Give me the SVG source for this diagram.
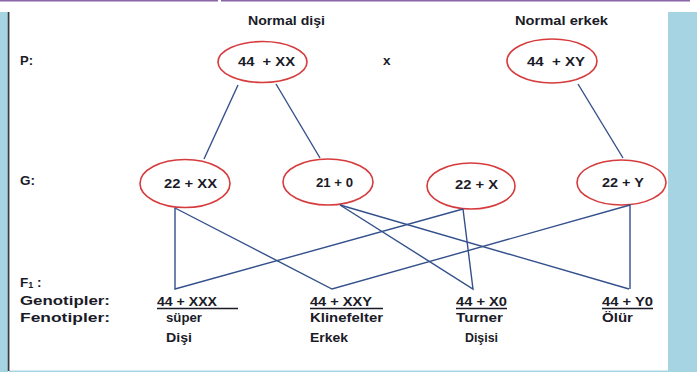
<svg xmlns="http://www.w3.org/2000/svg" width="697" height="372" viewBox="0 0 697 372">
  <style>
    .t { font-family: "Liberation Sans", Arial, sans-serif; font-weight: bold; font-size: 13.5px; fill: #1b1b28; }
    .ov { fill: none; stroke: #d63b3d; stroke-width: 1.6; }
    .ln { fill: none; stroke: #34508c; stroke-width: 1.4; }
    .ul { stroke: #1b1b28; stroke-width: 1.4; }
  </style>

  <!-- page frame -->
  <rect x="0" y="0" width="697" height="372" fill="#ffffff"/>
  <line x1="0" y1="0.7" x2="218" y2="0.7" stroke="#8a66a9" stroke-width="1.6"/>
  <line x1="221" y1="0.7" x2="690" y2="0.7" stroke="#8a66a9" stroke-width="1.6"/>
  <rect x="0" y="12" width="8" height="360" fill="#a6d4e2"/>
  <rect x="668" y="12" width="29" height="360" fill="#a6d4e2"/>
  <rect x="9" y="370.5" width="659" height="1.5" fill="#a6d4e2"/>
  <line x1="8.6" y1="12" x2="8.6" y2="371" stroke="#3a3a3a" stroke-width="1.7"/>

  <!-- row labels -->
  <g id="labels">
    <text class="t" x="248" y="25" textLength="77" lengthAdjust="spacingAndGlyphs">Normal dişi</text>
    <text class="t" x="515" y="25" textLength="93" lengthAdjust="spacingAndGlyphs">Normal erkek</text>
    <text class="t" x="20" y="65" textLength="13" lengthAdjust="spacingAndGlyphs">P:</text>
    <text class="t" x="383" y="65">x</text>
    <text class="t" x="20" y="185" textLength="15" lengthAdjust="spacingAndGlyphs">G:</text>
    <text class="t" x="20" y="287">F<tspan font-size="9" dy="1">1</tspan><tspan dy="-1"> :</tspan></text>
    <text class="t" x="20" y="305" textLength="90" lengthAdjust="spacingAndGlyphs">Genotipler:</text>
    <text class="t" x="20" y="322" textLength="90" lengthAdjust="spacingAndGlyphs">Fenotipler:</text>
  </g>

  <!-- parents -->
  <g id="p-female">
    <ellipse class="ov" cx="262.5" cy="62" rx="44.5" ry="20.5"/>
    <text class="t" x="238" y="66" textLength="57" lengthAdjust="spacingAndGlyphs">44&#160; + XX</text>
  </g>
  <g id="p-male">
    <ellipse class="ov" cx="552" cy="61" rx="45" ry="22"/>
    <text class="t" x="527" y="66" textLength="58" lengthAdjust="spacingAndGlyphs">44&#160; + XY</text>
  </g>

  <!-- gametes -->
  <g id="g-22xx">
    <ellipse class="ov" cx="185" cy="183.5" rx="45" ry="24"/>
    <text class="t" x="164" y="188" textLength="53" lengthAdjust="spacingAndGlyphs">22 + XX</text>
  </g>
  <g id="g-210">
    <ellipse class="ov" cx="328" cy="182" rx="45" ry="23"/>
    <text class="t" x="316" y="187" textLength="37" lengthAdjust="spacingAndGlyphs">21 + 0</text>
  </g>
  <g id="g-22x">
    <ellipse class="ov" cx="471" cy="186" rx="44" ry="23"/>
    <text class="t" x="455" y="189" textLength="43" lengthAdjust="spacingAndGlyphs">22 + X</text>
  </g>
  <g id="g-22y">
    <ellipse class="ov" cx="621.5" cy="182.5" rx="44.5" ry="22.5"/>
    <text class="t" x="602" y="187" textLength="42" lengthAdjust="spacingAndGlyphs">22 + Y</text>
  </g>

  <!-- offspring -->
  <g id="f-xxx">
    <text class="t" x="157" y="306" textLength="60" lengthAdjust="spacingAndGlyphs">44 + XXX</text>
    <line class="ul" x1="157" y1="308.5" x2="238" y2="308.5"/>
    <text class="t" x="166" y="322" textLength="36" lengthAdjust="spacingAndGlyphs">süper</text>
    <text class="t" x="166" y="342" textLength="26" lengthAdjust="spacingAndGlyphs">Dişi</text>
  </g>
  <g id="f-xxy">
    <text class="t" x="310" y="306" textLength="62" lengthAdjust="spacingAndGlyphs">44 + XXY</text>
    <line class="ul" x1="310" y1="308.5" x2="383" y2="308.5"/>
    <text class="t" x="310" y="322" textLength="73" lengthAdjust="spacingAndGlyphs">Klinefelter</text>
    <text class="t" x="310" y="342" textLength="38" lengthAdjust="spacingAndGlyphs">Erkek</text>
  </g>
  <g id="f-x0">
    <text class="t" x="456" y="306" textLength="51" lengthAdjust="spacingAndGlyphs">44 + X0</text>
    <line class="ul" x1="456" y1="308.5" x2="507" y2="308.5"/>
    <text class="t" x="456" y="322" textLength="47" lengthAdjust="spacingAndGlyphs">Turner</text>
    <text class="t" x="465" y="342" textLength="33" lengthAdjust="spacingAndGlyphs">Dişisi</text>
  </g>
  <g id="f-y0">
    <text class="t" x="602" y="306" textLength="51" lengthAdjust="spacingAndGlyphs">44 + Y0</text>
    <line class="ul" x1="602" y1="308.5" x2="653" y2="308.5"/>
    <text class="t" x="602" y="322" textLength="31" lengthAdjust="spacingAndGlyphs">Ölür</text>
  </g>

  <!-- connectors -->
  <g id="connectors">
    <line class="ln" x1="238" y1="85" x2="204" y2="159"/>
    <line class="ln" x1="276" y1="84" x2="320" y2="158"/>
    <line class="ln" x1="578" y1="84" x2="623" y2="158"/>
    <polyline class="ln" points="175,208 175,289 463,209"/>
    <polyline class="ln" points="175,208 332,289 630,205 630,289"/>
    <polyline class="ln" points="463,209 473,289 340,205"/>
    <line class="ln" x1="340" y1="205" x2="629" y2="289"/>
  </g>
</svg>
